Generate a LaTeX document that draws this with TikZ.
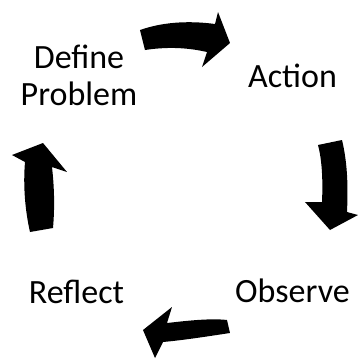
\documentclass[tikz,border=0pt]{standalone}
\usepackage{fontspec}
\setmainfont{Carlito}
\begin{document}
\begin{tikzpicture}[x=1pt,y=-1pt,
  lbl/.style={anchor=base,inner sep=0pt,font=\fontsize{34}{37}\selectfont,align=center},
  blockarrow/.style={fill=black,draw=none}]
\useasboundingbox (0,0) rectangle (359,360);
\node[lbl] (define) at (79,105) {Define\\Problem};
\node[lbl] (action) at (292.5,87) {Action};
\node[lbl] (observe) at (292.5,302) {Observe};
\node[lbl] (reflect) at (76.5,303) {Reflect};
% top arrow
\fill[blockarrow] (140,30) .. controls (160,23) and (185,20) .. (215,24) -- (218,12) -- (230,43) -- (202,67) -- (207,52) .. controls (185,47) and (165,47) .. (145,50) -- cycle;
% right arrow
\fill[blockarrow] (318,145) -- (342,140) .. controls (348,165) and (348,190) .. (347,212) -- (358,215) -- (330,230) -- (305,202) -- (322,202) .. controls (323,180) and (322,160) .. (318,145) -- cycle;
% bottom arrow
\fill[blockarrow] (227,320) -- (230,333) .. controls (210,336) and (185,340) .. (163,342) -- (155,358) -- (143,330) -- (172,307) -- (167,323) .. controls (185,321) and (210,318) .. (227,320) -- cycle;
% left arrow
\fill[blockarrow] (30,232) -- (53,228) .. controls (55,205) and (54,185) .. (52,167) -- (67,172) -- (43,143) -- (12,155) -- (25,162) .. controls (23,185) and (25,210) .. (30,232) -- cycle;
\end{tikzpicture}
\end{document}
